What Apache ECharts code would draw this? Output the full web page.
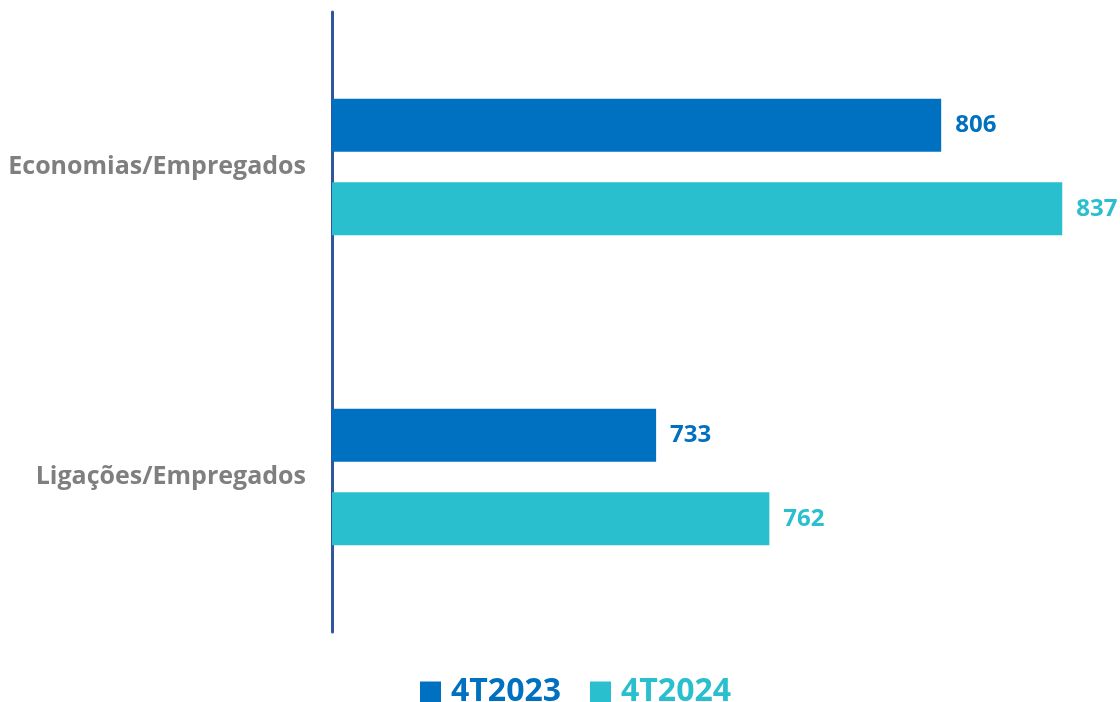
<!DOCTYPE html>
<html><head><meta charset="utf-8">
<script src="https://cdn.jsdelivr.net/npm/echarts@6/dist/echarts.min.js"></script>
<style>html,body{margin:0;padding:0;background:#fff}#c{width:1120px;height:702px}</style>
</head><body><div id="c"></div>
<script>
const categories = ['Economias/Empregados', 'Ligações/Empregados'];
const seriesNames = ['4T2023', '4T2024'];
const values2023 = [806, 733];
const values2024 = [837, 762];
const colors = ['#0070C0', '#2ABFCE'];
const font = '"Open Sans", "Noto Sans", sans-serif';

const chart = echarts.init(document.getElementById('c'));
function mk(name, data, color) {
  return {
    name, type: 'bar', data, barWidth: 53, barGap: '58%',
    itemStyle: { color },
    label: { show: true, position: 'right', distance: 14, color, fontFamily: font, fontWeight: 'bold', fontSize: 24 }
  };
}
chart.setOption({
  animation: false,
  color: colors,
  grid: { left: 332, right: 7, top: 12, bottom: 70, containLabel: false },
  legend: {
    top: 671, left: 415, itemWidth: 21, itemHeight: 21, itemGap: 29,
    icon: 'rect',
    data: seriesNames.map((n, i) => ({ name: n, textStyle: { color: colors[i] } })),
    textStyle: { fontFamily: font, fontWeight: 'bold', fontSize: 32, padding: [0, 0, 0, 5] }
  },
  xAxis: { type: 'value', min: 650, max: 850, show: false },
  yAxis: {
    type: 'category', data: categories, inverse: true,
    axisLine: { show: true, lineStyle: { color: '#2F559A', width: 3 } },
    axisTick: { show: false },
    axisLabel: { color: '#7F7F7F', fontFamily: font, fontWeight: 'bold', fontSize: 25, margin: 26 }
  },
  series: [mk(seriesNames[0], values2023, colors[0]), mk(seriesNames[1], values2024, colors[1])]
});
</script></body></html>
